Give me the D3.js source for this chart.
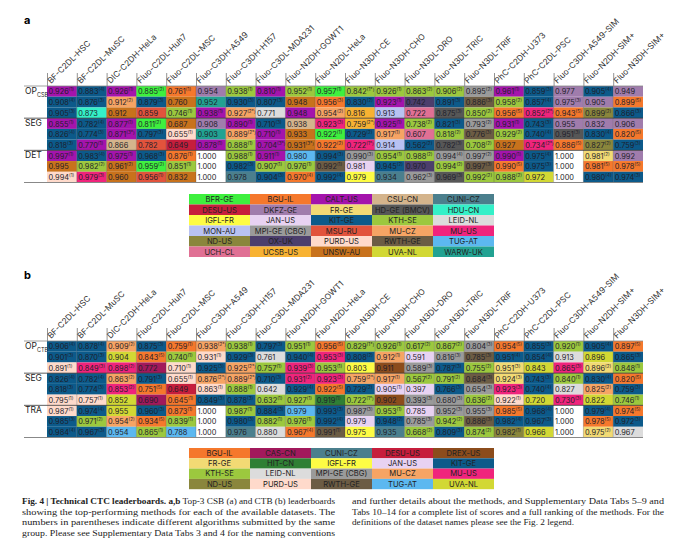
<!DOCTYPE html>
<html>
<head>
<meta charset="utf-8">
<script src="https://cdn.jsdelivr.net/npm/d3@7"></script>
<style>
  body { margin: 0; background: #fff; }
  svg { font-family: Inter, "Noto Sans", sans-serif; }
</style>
</head>
<body>
<svg id="chart" width="680" height="552"></svg>
<script>
(function() {
  'use strict'

  var datasets = ['BF-C2DL-HSC', 'BF-C2DL-MuSC', 'DIC-C2DH-HeLa', 'Fluo-C2DL-Huh7', 'Fluo-C2DL-MSC',
    'Fluo-C3DH-A549', 'Fluo-C3DH-H157', 'Fluo-C3DL-MDA231', 'Fluo-N2DH-GOWT1', 'Fluo-N2DL-HeLa',
    'Fluo-N3DH-CE', 'Fluo-N3DH-CHO', 'Fluo-N3DL-DRO', 'Fluo-N3DL-TRIC', 'Fluo-N3DL-TRIF',
    'PhC-C2DH-U373', 'PhC-C2DL-PSC', 'Fluo-C3DH-A549-SIM', 'Fluo-N2DH-SIM+', 'Fluo-N3DH-SIM+'];

  var teamColors = {
    'BFR-GE': '#3ef03e', 'BGU-IL': '#f5782c', 'CALT-US': '#a414ac', 'CSU-CN': '#d4b48c',
    'CUNI-CZ': '#4b7f8d', 'DESU-US': '#c61e3c', 'DKFZ-GE': '#a07cac', 'FR-GE': '#f2da74',
    'HD-GE (BMCV)': '#575757', 'HDU-CN': '#34f0c8', 'IGFL-FR': '#fdfc44', 'JAN-US': '#e8d2f2',
    'KIT-GE': '#0c5a8a', 'KTH-SE': '#9cc83e', 'LEID-NL': '#dcdcdc', 'MON-AU': '#b8c2f2',
    'MPI-GE (CBG)': '#9a9a9a', 'MSU-RU': '#e2533c', 'MU-CZ': '#f6a464', 'MU-US': '#f0247c',
    'ND-US': '#8a863c', 'OX-UK': '#4c3e6c', 'PURD-US': '#ffdacb', 'RWTH-GE': '#6c5c44',
    'TUG-AT': '#5cb8f0', 'UCH-CL': '#e07094', 'UCSB-US': '#f8b232', 'UNSW-AU': '#c8721c',
    'UVA-NL': '#d2d834', 'WARW-UK': '#22a292', 'CAS-CN': '#a2195c', 'DREX-US': '#8c4c1c',
    'HIT-CN': '#2f7f34', 'W': '#ffffff'
  };
  var abbr = {};
  Object.keys(teamColors).forEach(function(k) { abbr[k.split('-')[0]] = k; });

  var legendA = ['BFR-GE', 'BGU-IL', 'CALT-US', 'CSU-CN', 'CUNI-CZ',
    'DESU-US', 'DKFZ-GE', 'FR-GE', 'HD-GE (BMCV)', 'HDU-CN',
    'IGFL-FR', 'JAN-US', 'KIT-GE', 'KTH-SE', 'LEID-NL',
    'MON-AU', 'MPI-GE (CBG)', 'MSU-RU', 'MU-CZ', 'MU-US',
    'ND-US', 'OX-UK', 'PURD-US', 'RWTH-GE', 'TUG-AT',
    'UCH-CL', 'UCSB-US', 'UNSW-AU', 'UVA-NL', 'WARW-UK'];
  var legendB = ['BGU-IL', 'CAS-CN', 'CUNI-CZ', 'DESU-US', 'DREX-US',
    'FR-GE', 'HIT-CN', 'IGFL-FR', 'JAN-US', 'KIT-GE',
    'KTH-SE', 'LEID-NL', 'MPI-GE (CBG)', 'MU-CZ', 'MU-US',
    'ND-US', 'PURD-US', 'RWTH-GE', 'TUG-AT', 'UVA-NL'];

  // per dataset: 9 cells "value,team,superscript" (OP x3, SEG x3, DET/TRA x3)
  var csb = [
    ['0.926,CALT,1', '0.908,KIT,4', '0.905,KIT,3', '0.855,CALT,1', '0.826,KIT,4', '0.818,KIT,3', '0.997,CALT,1', '0.995,UNSW,', '0.994,PURD,1'],
    ['0.883,KIT,4', '0.876,KIT,3', '0.873,HDU,', '0.782,KIT,4', '0.774,KIT,3', '0.770,CALT,1', '0.983,KIT,4', '0.982,KTH,2', '0.979,MU-US,3'],
    ['0.926,CALT,1', '0.912,MU-CZ,2', '0.912,UNSW,', '0.877,CALT,1', '0.871,CALT,3*', '0.866,CSU,', '0.975,CALT,1', '0.961,UNSW,2', '0.960,UNSW,'],
    ['0.885,BFR,2', '0.879,KIT,3', '0.859,MSU,', '0.811,BFR,2', '0.797,KIT,3', '0.782,MSU,', '0.968,KIT,3', '0.959,BFR,2', '0.956,MSU,1'],
    ['0.761,BGU,1', '0.760,UNSW,', '0.746,KTH,1', '0.687,UNSW,', '0.655,PURD,1', '0.649,DESU,', '0.876,BGU,1', '0.851,KTH,1', '0.832,UNSW,'],
    ['0.954,DKFZ,', '0.952,WARW,', '0.938,CALT,1', '0.908,DKFZ,', '0.903,WARW,', '0.878,CALT,1', '1.000,W,', '1.000,W,', '1.000,W,'],
    ['0.938,KTH,1', '0.930,KIT,3', '0.927,MU-CZ,2*', '0.890,CALT,1', '0.889,MU-CZ,2*', '0.888,KTH,1', '0.988,KTH,1', '0.982,KIT,3', '0.978,CUNI,'],
    ['0.810,CALT,1', '0.807,KIT,3', '0.771,LEID,', '0.710,KIT,3', '0.710,CALT,1', '0.704,CALT,3*', '0.911,CALT,1', '0.907,KTH,1', '0.904,KIT,3'],
    ['0.952,KTH,1', '0.948,UNSW,', '0.948,CALT,', '0.938,CSU,', '0.933,UNSW,', '0.931,UNSW,3*', '0.980,TUG,', '0.976,KTH,1', '0.970,BGU,4'],
    ['0.957,BFR,1', '0.956,BGU,3', '0.954,MU-CZ,2', '0.923,MU-US,3', '0.922,BFR,1', '0.922,BGU,2', '0.994,KIT,3', '0.992,RWTH,1', '0.992,KIT,4'],
    ['0.842,KTH,1*', '0.830,KIT,2', '0.816,UCSB,', '0.759,UCSB,2*', '0.729,KIT,2', '0.722,MU-US,1*', '0.990,MPI,3', '0.981,JAN,', '0.979,IGFL,'],
    ['0.926,KTH,1', '0.923,CALT,1', '0.913,MON,', '0.925,CALT,1', '0.917,MU-CZ,1', '0.914,MON,', '0.954,KTH,1', '0.945,KIT,2', '0.934,CUNI,'],
    ['0.863,KTH,2', '0.742,OX,', '0.722,UCH,', '0.738,KTH,2', '0.607,UCH,', '0.562,KIT,2', '0.988,KTH,2', '0.970,OX,', '0.962,MPI,3'],
    ['0.906,KTH,2', '0.891,KIT,3', '0.875,HD,3', '0.821,KIT,3', '0.818,KTH,2', '0.782,HD,3', '0.994,MPI,4', '0.994,KTH,2', '0.969,HD,3'],
    ['0.895,MPI,2', '0.886,RWTH,3', '0.850,KTH,2', '0.793,MPI,2', '0.776,RWTH,3', '0.708,KTH,2', '0.997,MPI,2', '0.997,RWTH,3', '0.992,KTH,2'],
    ['0.961,CALT,1', '0.958,KTH,2', '0.956,BGU,5', '0.931,CALT,1', '0.929,KTH,2', '0.927,UNSW,', '0.990,CALT,1', '0.990,BGU,5', '0.988,KTH,2'],
    ['0.859,KIT,3', '0.857,KIT,4', '0.852,MU-US,2*', '0.743,KIT,3', '0.740,KIT,4', '0.734,MU-US,2*', '0.975,KIT,4', '0.975,KIT,3', '0.972,UVA,'],
    ['0.977,DKFZ,', '0.975,DKFZ,3', '0.943,BGU,5', '0.955,DKFZ,', '0.951,HD,3', '0.886,BGU,5', '1.000,W,', '1.000,W,', '1.000,W,'],
    ['0.905,KIT,4', '0.905,DKFZ,', '0.899,ND,2', '0.832,DKFZ,', '0.830,KIT,4', '0.827,ND,2', '0.981,FR,2', '0.981,BGU,5', '0.980,KIT,4'],
    ['0.949,DKFZ,', '0.899,BGU,5', '0.866,KIT,3', '0.906,DKFZ,', '0.820,BGU,5', '0.759,KIT,3', '0.992,DKFZ,', '0.978,BGU,5', '0.974,KIT,3']
  ];

  var ctb = [
    ['0.906,KIT,4', '0.901,KIT,3', '0.891,PURD,1', '0.826,KIT,4', '0.818,KIT,3', '0.795,PURD,1', '0.987,PURD,1', '0.985,KIT,3', '0.984,KIT,4'],
    ['0.878,KIT,4', '0.870,KIT,3', '0.849,MU-US,3', '0.782,KIT,4', '0.774,KIT,3', '0.757,PURD,1', '0.974,KIT,4', '0.971,KTH,2', '0.967,KIT,3'],
    ['0.909,MU-CZ,2', '0.904,UVA,', '0.898,MU-US,2', '0.863,MU-CZ,2', '0.853,MU-US,2', '0.852,UVA,', '0.955,UVA,', '0.954,MU-CZ,2', '0.954,TUG,'],
    ['0.875,KIT,3', '0.843,BGU,5', '0.772,CAS,', '0.791,KIT,3', '0.751,BGU,5', '0.690,CAS,', '0.960,KIT,3', '0.934,BGU,5', '0.865,KTH,1'],
    ['0.759,BGU,1', '0.740,KTH,1', '0.710,PURD,1', '0.655,PURD,1', '0.649,DESU,', '0.645,BGU,1', '0.873,BGU,1', '0.839,KTH,1', '0.788,TUG,'],
    ['0.938,MU-CZ,2*', '0.931,PURD,1', '0.925,KIT,3', '0.876,MU-CZ,2*', '0.863,PURD,1', '0.849,KIT,3', '1.000,W,', '1.000,W,', '1.000,W,'],
    ['0.938,KTH,1', '0.929,KIT,3', '0.925,MU-CZ,2*', '0.889,MU-CZ,2*', '0.888,KTH,1', '0.878,KIT,3', '0.987,KTH,1', '0.980,KIT,3', '0.976,CUNI,'],
    ['0.797,KIT,3', '0.761,LEID,', '0.757,KTH,1', '0.710,KIT,3', '0.642,LEID,', '0.632,KTH,1', '0.884,KIT,3', '0.882,KTH,1', '0.880,LEID,'],
    ['0.951,KTH,1', '0.940,KIT,4', '0.939,MU-US,3', '0.931,MU-US,2', '0.929,KIT,4', '0.927,KTH,1', '0.979,TUG,', '0.976,KTH,1', '0.967,BGU,4'],
    ['0.956,BGU,5', '0.953,MU-US,3', '0.953,KTH,1', '0.923,MU-US,3', '0.922,BGU,5', '0.919,HIT,1', '0.993,KIT,3', '0.992,KIT,4', '0.991,RWTH,1'],
    ['0.829,KTH,1*', '0.808,KIT,2', '0.803,IGFL,', '0.759,MU-CZ,2*', '0.729,KIT,2', '0.722,KTH,1*', '0.987,MPI,3', '0.979,JAN,', '0.975,IGFL,'],
    ['0.926,KTH,1', '0.912,MU-CZ,1', '0.911,DREX,', '0.917,MU-CZ,1', '0.905,JAN,1', '0.902,DREX,', '0.953,KTH,1', '0.948,KIT,2', '0.935,CUNI,'],
    ['0.617,KTH,2', '0.591,JAN,', '0.589,MPI,3', '0.567,KTH,2', '0.397,JAN,', '0.393,MPI,3', '0.785,JAN,', '0.785,MPI,3', '0.668,KTH,2'],
    ['0.867,KTH,2', '0.816,MPI,3', '0.787,KIT,3', '0.791,KTH,2', '0.766,KIT,3', '0.680,MPI,3', '0.952,MPI,3', '0.942,KTH,2', '0.809,KIT,3'],
    ['0.804,MPI,3', '0.785,RWTH,3', '0.755,KTH,2', '0.684,RWTH,3', '0.654,MPI,3', '0.636,KTH,2', '0.955,MPI,3', '0.886,RWTH,3', '0.874,KTH,2'],
    ['0.954,BGU,5', '0.951,KIT,4', '0.951,FR,3', '0.924,FR,3', '0.923,MU-US,3', '0.922,PURD,1', '0.985,BGU,5', '0.982,KIT,4', '0.982,ND,1'],
    ['0.855,KIT,3', '0.854,KIT,4', '0.843,UVA,', '0.743,KIT,3', '0.740,KIT,4', '0.720,UVA,', '0.968,KIT,4', '0.967,KIT,3', '0.966,UVA,'],
    ['0.920,KTH,1', '0.913,LEID,', '0.865,MU-US,3', '0.840,KTH,1', '0.827,LEID,', '0.730,MU-US,3', '1.000,W,', '1.000,W,', '1.000,W,'],
    ['0.905,KIT,4', '0.896,UVA,', '0.896,FR,2', '0.830,KIT,4', '0.825,MU-CZ,2', '0.822,UVA,', '0.979,KIT,4', '0.978,BGU,5', '0.975,FR,2'],
    ['0.897,BGU,5', '0.865,KIT,3', '0.848,KTH,1', '0.820,BGU,5', '0.759,KIT,3', '0.746,KTH,1', '0.974,BGU,5', '0.972,KIT,3', '0.967,LEID,']
  ];

  var groupsA = [['OP', 'CSB'], ['SEG', ''], ['DET', '']];
  var groupsB = [['OP', 'CTB'], ['SEG', ''], ['TRA', '']];

  var captionLeft = [
    ['Fig. 4 | Technical CTC leaderboards. a,b', true, ' Top-3 CSB (a) and CTB (b) leaderboards'],
    ['showing the top-performing methods for each of the available datasets. The'],
    ['numbers in parentheses indicate different algorithms submitted by the same'],
    ['group. Please see Supplementary Data Tabs 3 and 4 for the naming conventions']
  ];
  var captionRight = [
    'and further details about the methods, and Supplementary Data Tabs 5\u20139 and',
    'Tabs 10\u201314 for a complete list of scores and a full ranking of the methods. For the',
    'definitions of the dataset names please see the Fig. 2 legend.'
  ];

  var svg = d3.select('#chart');

  function drawTable(top, cols, groups, letter) {
    var g = svg.append('g').attr('transform', 'translate(0,' + top + ')');
    var x = d3.scaleBand().domain(d3.range(datasets.length)).range([47, 643]);
    var y = d3.scaleBand().domain(d3.range(9)).range([86, 182.5]);

    g.append('text').attr('x', 24).attr('y', 24).attr('font-weight', 700)
      .attr('font-size', 11).text(letter);

    // rotated header labels
    g.selectAll('text.hd').data(datasets).enter().append('text')
      .attr('class', 'hd')
      .attr('transform', function(d, i) {
        return 'translate(' + (x(i) + 4) + ',84) rotate(-45)';
      })
      .attr('font-size', 8.3).attr('fill', '#333').text(function(d) { return d; });

    g.selectAll('line.tick').data(d3.range(datasets.length)).enter().append('line')
      .attr('x1', function(i) { return x(i) + 0.5; }).attr('x2', function(i) { return x(i) + 0.5; })
      .attr('y1', 73).attr('y2', 86).attr('stroke', '#666').attr('stroke-width', 0.7);

    var cells = [];
    cols.forEach(function(col, ci) {
      col.forEach(function(s, ri) {
        var p = s.split(',');
        cells.push({ c: ci, r: ri, v: p[0], team: abbr[p[1]] || p[1], sup: p[2] });
      });
    });

    g.selectAll('rect.cell').data(cells).enter().append('rect')
      .attr('x', function(d) { return x(d.c); }).attr('y', function(d) { return y(d.r); })
      .attr('width', x.bandwidth()).attr('height', y.bandwidth())
      .attr('fill', function(d) { return teamColors[d.team]; });

    var t = g.selectAll('text.cell').data(cells).enter().append('text')
      .attr('x', function(d) { return x(d.c) + 1.5; })
      .attr('y', function(d) { return y(d.r) + y.bandwidth() - 2.3; })
      .attr('font-size', 7.4).attr('fill', '#1e1e2a');
    t.append('tspan').text(function(d) { return d.v; });
    t.filter(function(d) { return d.sup; }).append('tspan')
      .attr('font-size', 4.6).attr('dy', -3).text(function(d) { return '(' + d.sup + ')'; });

    // column separators
    g.selectAll('line.sep').data(d3.range(1, datasets.length)).enter().append('line')
      .attr('x1', function(i) { return x(i); }).attr('x2', function(i) { return x(i); })
      .attr('y1', 86).attr('y2', 182.5).attr('stroke', '#333').attr('stroke-width', 0.5)
      .attr('stroke-opacity', 0.5);

    // group lines and labels
    [0, 3, 6, 9].forEach(function(r) {
      var yy = r === 9 ? 182.5 : y(r);
      g.append('line').attr('x1', 24).attr('x2', 643).attr('y1', yy).attr('y2', yy)
        .attr('stroke', r === 0 || r === 9 ? '#888' : '#333').attr('stroke-width', r === 9 ? 1.2 : 0.8);
    });
    groups.forEach(function(gr, i) {
      var lt = g.append('text').attr('x', 25).attr('y', y(i * 3) + 8).attr('font-size', 8.5)
        .attr('fill', '#222');
      lt.append('tspan').text(gr[0]);
      if (gr[1]) lt.append('tspan').attr('font-size', 5.5).attr('dy', 2.5).text(gr[1]);
    });
  }

  function drawLegend(top, items, rowH) {
    var lx = d3.scaleBand().domain(d3.range(5)).range([189, 494]);
    var g = svg.append('g');
    var it = g.selectAll('g').data(items).enter().append('g')
      .attr('transform', function(d, i) {
        return 'translate(' + lx(i % 5) + ',' + (top + Math.floor(i / 5) * rowH) + ')';
      });
    it.append('rect').attr('width', lx.bandwidth()).attr('height', rowH)
      .attr('fill', function(d) { return teamColors[d]; });
    it.append('text').attr('x', lx.bandwidth() / 2).attr('y', rowH - 2.4)
      .attr('text-anchor', 'middle').attr('font-size', 7.6).attr('fill', '#222')
      .text(function(d) { return d; });
  }

  drawTable(0, csb, groupsA, 'a');
  drawLegend(194, legendA, 10.5);
  drawTable(255, ctb, groupsB, 'b');
  drawLegend(448, legendB, 10.3);

  var cap = svg.append('g').attr('font-size', 9.2).attr('fill', '#222')
    .attr('font-family', '"Liberation Serif", "DejaVu Serif", serif');
  captionLeft.forEach(function(l, i) {
    var t = cap.append('text').attr('x', 22).attr('y', 504 + i * 10.7)
      .attr('textLength', 313).attr('lengthAdjust', 'spacingAndGlyphs');
    if (l[1]) {
      t.append('tspan').attr('font-weight', 700).text(l[0]);
      t.append('tspan').text(l[2]);
    } else {
      t.text(l[0]);
    }
  });
  captionRight.forEach(function(l, i) {
    var t = cap.append('text').attr('x', 352).attr('y', 504 + i * 10.7).text(l);
    if (i < 2) t.attr('textLength', 312).attr('lengthAdjust', 'spacingAndGlyphs');
  });
}());
</script>
</body>
</html>
